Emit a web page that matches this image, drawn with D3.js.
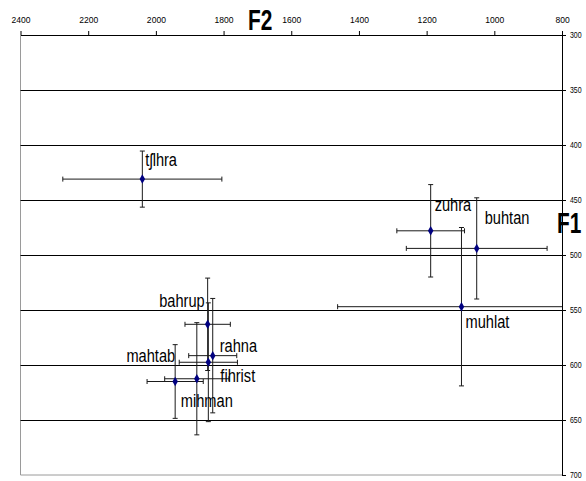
<!DOCTYPE html>
<html>
<head>
<meta charset="utf-8">
<script src="https://cdn.jsdelivr.net/npm/d3@7/dist/d3.min.js"></script>
<style>
body { margin:0; background:#fff; }
text { font-family:"Liberation Sans", Arial, sans-serif; fill:#000; }
</style>
</head>
<body>
<div class="chart"></div>
<script>
// vowel data: F2 on top (reversed), F1 on the right
var words = ["tʃlhra","zuhra","buhtan","muhlat","bahrup","rahna","fihrist","mihman","mahtab"];
var f2    = [2040, 1188, 1052, 1097, 1847, 1832, 1845, 1879, 1943];
var f1    = [431, 478, 494, 547, 563, 591.5, 597.5, 612.5, 615];
var f2Err = [235, 100, 208, 366, 67, 71, 86, 95, 83];
var f1Err = [25.5, 42, 46, 72, 42, 52, 54, 51, 33.5];

var f2Ticks = [2400,2200,2000,1800,1600,1400,1200,1000,800];
var f1Ticks = [300,350,400,450,500,550,600,650,700];

// label placement relative to its point: [dx, dy, anchor]
var labelPos = [[3,-13,"start"],[4,-20,"start"],[8,-24,"start"],[4,21,"start"],
                [-3,-17,"end"],[7,-4,"start"],[12,20,"start"],[-16,28,"start"],[0,-20,"end"]];

var margin = {top: 35, right: 24, bottom: 6, left: 20.5};
var Width = 586-margin.left-margin.right;
var Height = 481-margin.top-margin.bottom;

var xScale = d3.scaleLinear().domain([2400,800]).range([0,Width]);
var yScale = d3.scaleLinear().domain([300,700]).range([0,Height]);

var svg = d3.select(".chart").append("svg")
  .attr("width",586).attr("height",481)
  .append("g")
    .attr("transform","translate("+margin.left+","+margin.top+")");

svg.append("clipPath").attr("id","plot")
  .append("rect").attr("width",Width).attr("height",Height);

// grey frame left and bottom
svg.append("path")
  .attr("d","M0,0V"+Height+"H"+Width)
  .attr("fill","none").attr("stroke","#9a9a9a");

// horizontal gridlines
svg.selectAll("line.grid")
  .data(f1Ticks.filter((d)=>{ return d>300 && d<700; }))
  .enter().append("line")
    .attr("class","grid")
    .attr("x1",0).attr("x2",Width)
    .attr("y1",(d)=>{ return Math.round(yScale(d))+0.5; })
    .attr("y2",(d)=>{ return Math.round(yScale(d))+0.5; })
    .attr("stroke","#000");

// error bars
var bars = svg.append("g").attr("clip-path","url(#plot)")
  .attr("stroke","#1a1a1a").attr("fill","none");
var cap = 2.5;
words.forEach((w,i)=>{
  var cx = xScale(f2[i]), cy = yScale(f1[i]);
  var xl = xScale(f2[i]+f2Err[i]), xr = xScale(f2[i]-f2Err[i]);
  var yt = yScale(f1[i]-f1Err[i]), yb = yScale(f1[i]+f1Err[i]);
  bars.append("path")
    .attr("d","M"+xl+","+cy+"H"+xr+
              "M"+xl+","+(cy-cap)+"V"+(cy+cap)+
              "M"+xr+","+(cy-cap)+"V"+(cy+cap));
  bars.append("path")
    .attr("d","M"+cx+","+yt+"V"+yb+
              "M"+(cx-cap)+","+yt+"H"+(cx+cap)+
              "M"+(cx-cap)+","+yb+"H"+(cx+cap));
});

// markers
svg.selectAll("path.pt")
  .data(words)
  .enter().append("path")
    .attr("class","pt")
    .attr("d",d3.symbol().type(d3.symbolDiamond).size(26))
    .attr("transform",(d,i)=>{ return "translate("+xScale(f2[i])+","+yScale(f1[i])+")"; })
    .attr("fill","#000080");

// word labels
svg.selectAll("text.lbl")
  .data(words)
  .enter().append("text")
    .attr("class","lbl")
    .attr("transform",(d,i)=>{
      return "translate("+(xScale(f2[i])+labelPos[i][0])+","+(yScale(f1[i])+labelPos[i][1])+") scale(0.79,1)";
    })
    .attr("text-anchor",(d,i)=>{ return labelPos[i][2]; })
    .style("font-size","18.5px")
    .text((d)=>{ return d; });

// top axis F2
var xAxis = d3.axisTop(xScale).tickValues(f2Ticks).tickSize(4).tickSizeOuter(0).tickFormat(d3.format("d"));
var gx = svg.append("g").attr("class","x axis").call(xAxis);
gx.select(".domain").attr("stroke","#000");
gx.selectAll(".tick line").attr("stroke","#000");
gx.selectAll("text")
  .attr("y",-12).attr("dy",0)
  .attr("transform","scale(0.92,1)")
  .style("font-size","9.3px").style("font-family","Liberation Sans, Arial, sans-serif");

// right axis F1
var yAxis = d3.axisRight(yScale).tickValues(f1Ticks).tickSize(4).tickSizeOuter(0);
var gy = svg.append("g").attr("class","y axis")
  .attr("transform","translate("+Width+",0)").call(yAxis);
gy.select(".domain").attr("stroke","#000");
gy.selectAll(".tick line").attr("stroke","#000");
gy.selectAll("text")
  .attr("x",8/0.75)
  .attr("transform","scale(0.75,1)")
  .style("font-size","9.3px").style("font-family","Liberation Sans, Arial, sans-serif");

// axis titles
svg.append("text")
  .attr("transform","translate(227.5,-5) scale(0.72,1)")
  .style("font-size","29px").style("font-weight","bold")
  .text("F2");
svg.append("text")
  .attr("transform","translate(536.5,198) scale(0.72,1)")
  .style("font-size","29px").style("font-weight","bold")
  .text("F1");
</script>
</body>
</html>
